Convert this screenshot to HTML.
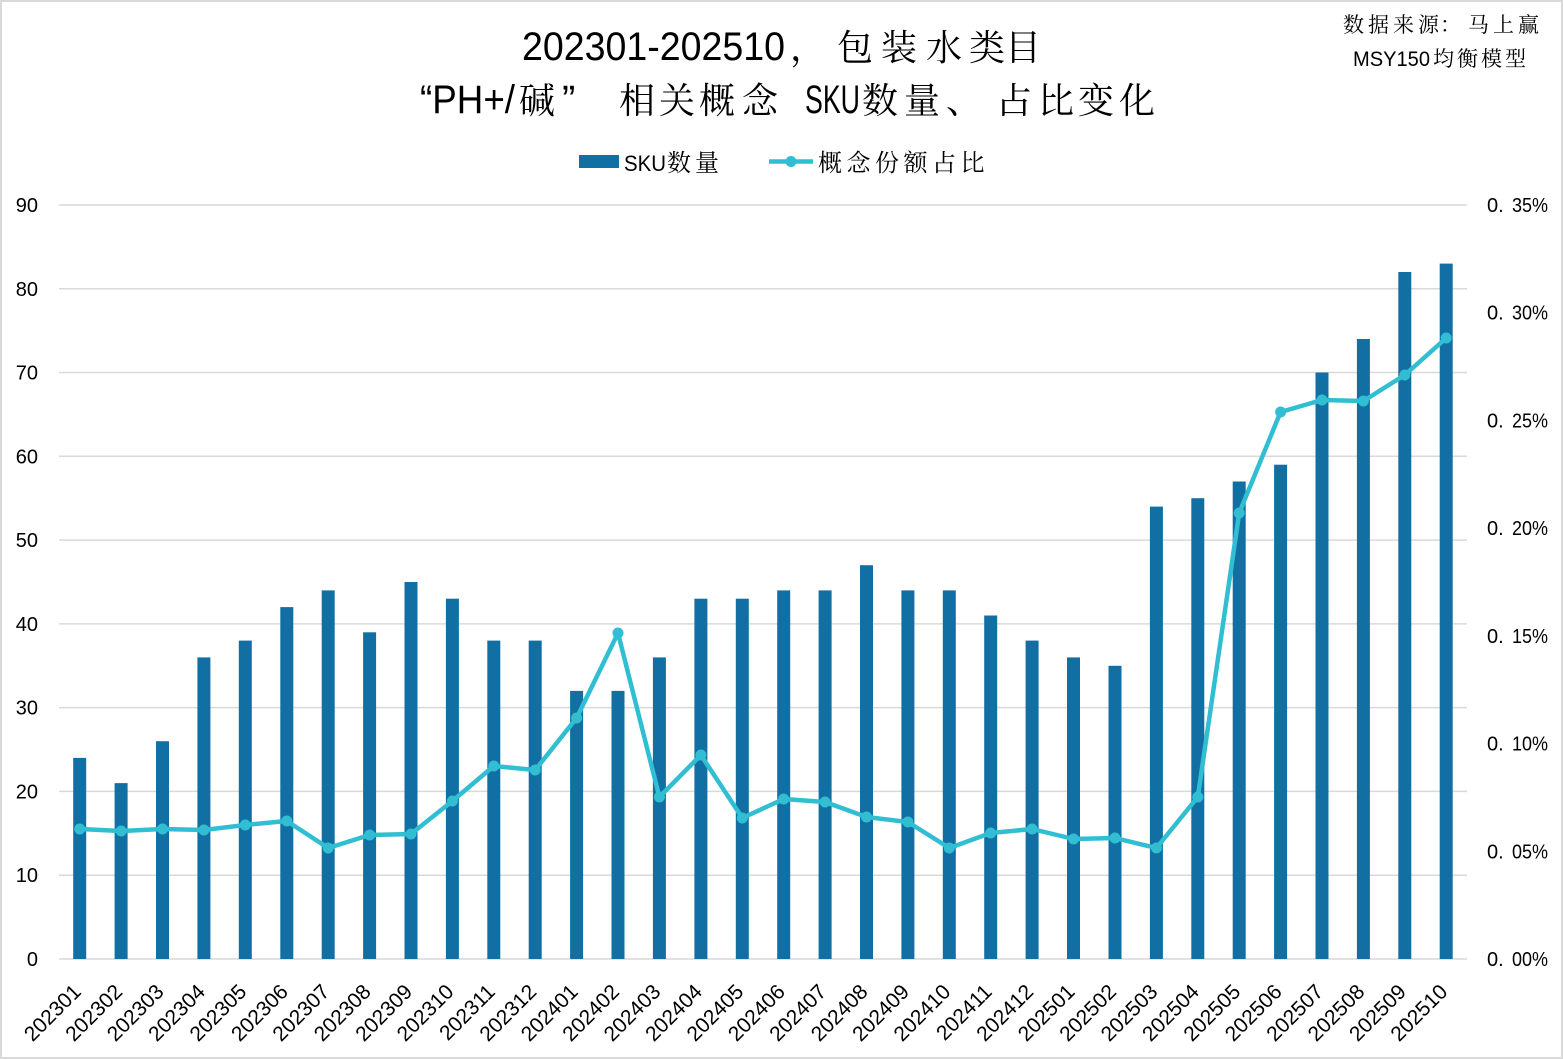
<!DOCTYPE html>
<html>
<head>
<meta charset="utf-8">
<style>
html,body{margin:0;padding:0;background:#fff;}
svg{display:block;}
.lat{font-family:"Liberation Sans","Noto Serif CJK SC",serif;}
.cjk{font-family:"Liberation Sans","Noto Serif CJK SC",serif;}
</style>
</head>
<body>
<svg width="1563" height="1059" viewBox="0 0 1563 1059" xmlns="http://www.w3.org/2000/svg">
<rect x="1" y="1" width="1561" height="1057" fill="#ffffff" stroke="#d9d9d9" stroke-width="2"/>

<!-- Title -->
<g fill="#000">
<text class="lat" x="522" y="60" font-size="40" textLength="263" lengthAdjust="spacingAndGlyphs">202301-202510</text>
<text class="cjk" x="790 837 881 926 969 1005" y="60" font-size="36">，包装水类目</text>

<text class="lat" x="420" y="113" font-size="40" textLength="95" lengthAdjust="spacingAndGlyphs">“PH+/</text>
<text class="cjk" x="519" y="113" font-size="36">碱</text>
<text class="lat" x="562" y="113" font-size="40">”</text>
<text class="cjk" x="619 659 699 742" y="113" font-size="36">相关概念</text>
<text class="lat" x="805" y="113" font-size="40" textLength="55" lengthAdjust="spacingAndGlyphs">SKU</text>
<text class="cjk" x="862 904 946 996 1038 1078 1119" y="113" font-size="36">数量、占比变化</text>
</g>

<!-- Source -->
<g fill="#000">
<text class="cjk" x="1343 1368 1393 1418 1440 1468 1493 1518" y="32" font-size="21">数据来源：马上赢</text>
<text class="lat" x="1353" y="66" font-size="21" textLength="77" lengthAdjust="spacingAndGlyphs">MSY150</text>
<text class="cjk" x="1433 1457 1481 1505" y="66" font-size="21">均衡模型</text>
</g>

<!-- Legend -->
<rect x="579" y="155" width="40" height="13" fill="#126FA3"/>
<text class="lat" x="624" y="171" font-size="22" textLength="42" lengthAdjust="spacingAndGlyphs" fill="#000">SKU</text>
<text class="cjk" x="667 695" y="171" font-size="24" fill="#000">数量</text>
<line x1="769" y1="161.5" x2="813" y2="161.5" stroke="#31BED3" stroke-width="4.5"/>
<circle cx="791" cy="161.5" r="5.5" fill="#31BED3"/>
<text class="cjk" x="818 846.5 875 903.5 932 960.5" y="171" font-size="24" fill="#000">概念份额占比</text>

<!-- Gridlines -->
<g stroke="#d9d9d9" stroke-width="1.5">
<line x1="59" y1="205" x2="1467" y2="205"/>
<line x1="59" y1="288.8" x2="1467" y2="288.8"/>
<line x1="59" y1="372.5" x2="1467" y2="372.5"/>
<line x1="59" y1="456.3" x2="1467" y2="456.3"/>
<line x1="59" y1="540.1" x2="1467" y2="540.1"/>
<line x1="59" y1="623.9" x2="1467" y2="623.9"/>
<line x1="59" y1="707.6" x2="1467" y2="707.6"/>
<line x1="59" y1="791.4" x2="1467" y2="791.4"/>
<line x1="59" y1="875.2" x2="1467" y2="875.2"/>
<line x1="59" y1="959" x2="1467" y2="959"/>
</g>

<!-- Left axis labels -->
<g class="lat" font-size="20" fill="#000" text-anchor="end">
<text x="38" y="212">90</text>
<text x="38" y="295.8">80</text>
<text x="38" y="379.5">70</text>
<text x="38" y="463.3">60</text>
<text x="38" y="547.1">50</text>
<text x="38" y="630.9">40</text>
<text x="38" y="714.6">30</text>
<text x="38" y="798.4">20</text>
<text x="38" y="882.2">10</text>
<text x="38" y="966">0</text>
</g>

<!-- Right axis labels -->
<g class="lat" font-size="20" fill="#000">
<text x="1487" y="212">0.</text><text x="1512" y="212" textLength="36" lengthAdjust="spacingAndGlyphs">35%</text>
<text x="1487" y="319.7">0.</text><text x="1512" y="319.7" textLength="36" lengthAdjust="spacingAndGlyphs">30%</text>
<text x="1487" y="427.4">0.</text><text x="1512" y="427.4" textLength="36" lengthAdjust="spacingAndGlyphs">25%</text>
<text x="1487" y="535.1">0.</text><text x="1512" y="535.1" textLength="36" lengthAdjust="spacingAndGlyphs">20%</text>
<text x="1487" y="642.9">0.</text><text x="1512" y="642.9" textLength="36" lengthAdjust="spacingAndGlyphs">15%</text>
<text x="1487" y="750.6">0.</text><text x="1512" y="750.6" textLength="36" lengthAdjust="spacingAndGlyphs">10%</text>
<text x="1487" y="858.3">0.</text><text x="1512" y="858.3" textLength="36" lengthAdjust="spacingAndGlyphs">05%</text>
<text x="1487" y="966">0.</text><text x="1512" y="966" textLength="36" lengthAdjust="spacingAndGlyphs">00%</text>
</g>

<!-- Bars -->
<g fill="#126FA3">
<rect x="73.2" y="757.9" width="13" height="201.1"/>
<rect x="114.6" y="783.1" width="13" height="175.9"/>
<rect x="156.0" y="741.2" width="13" height="217.8"/>
<rect x="197.4" y="657.4" width="13" height="301.6"/>
<rect x="238.8" y="640.6" width="13" height="318.4"/>
<rect x="280.3" y="607.1" width="13" height="351.9"/>
<rect x="321.7" y="590.4" width="13" height="368.6"/>
<rect x="363.1" y="632.3" width="13" height="326.7"/>
<rect x="404.5" y="582.0" width="13" height="377.0"/>
<rect x="445.9" y="598.7" width="13" height="360.3"/>
<rect x="487.3" y="640.6" width="13" height="318.4"/>
<rect x="528.7" y="640.6" width="13" height="318.4"/>
<rect x="570.1" y="690.9" width="13" height="268.1"/>
<rect x="611.5" y="690.9" width="13" height="268.1"/>
<rect x="652.9" y="657.4" width="13" height="301.6"/>
<rect x="694.4" y="598.7" width="13" height="360.3"/>
<rect x="735.8" y="598.7" width="13" height="360.3"/>
<rect x="777.2" y="590.4" width="13" height="368.6"/>
<rect x="818.6" y="590.4" width="13" height="368.6"/>
<rect x="860.0" y="565.2" width="13" height="393.8"/>
<rect x="901.4" y="590.4" width="13" height="368.6"/>
<rect x="942.8" y="590.4" width="13" height="368.6"/>
<rect x="984.2" y="615.5" width="13" height="343.5"/>
<rect x="1025.6" y="640.6" width="13" height="318.4"/>
<rect x="1067.0" y="657.4" width="13" height="301.6"/>
<rect x="1108.5" y="665.8" width="13" height="293.2"/>
<rect x="1149.9" y="506.6" width="13" height="452.4"/>
<rect x="1191.3" y="498.2" width="13" height="460.8"/>
<rect x="1232.7" y="481.5" width="13" height="477.5"/>
<rect x="1274.1" y="464.7" width="13" height="494.3"/>
<rect x="1315.5" y="372.5" width="13" height="586.5"/>
<rect x="1356.9" y="339.0" width="13" height="620.0"/>
<rect x="1398.3" y="272.0" width="13" height="687.0"/>
<rect x="1439.7" y="263.6" width="13" height="695.4"/>
</g>

<!-- Line -->
<polyline fill="none" stroke="#31BED3" stroke-width="4.5" stroke-linejoin="round" stroke-linecap="round"
points="79.7,829 121.1,831 162.5,829 203.9,830 245.3,825 286.8,821 328.2,848 369.6,835 411.0,834 452.4,801 493.8,766 535.2,770 576.6,718 618.0,633 659.4,797 700.9,755 742.3,818 783.7,799 825.1,802 866.5,817 907.9,822 949.3,848 990.7,833 1032.1,829 1073.5,839 1115.0,838 1156.4,848 1197.8,797 1239.2,513 1280.6,412 1322.0,400 1363.4,401 1404.8,375 1446.2,338"/>
<g fill="#31BED3">
<circle cx="79.7" cy="829" r="5.5"/>
<circle cx="121.1" cy="831" r="5.5"/>
<circle cx="162.5" cy="829" r="5.5"/>
<circle cx="203.9" cy="830" r="5.5"/>
<circle cx="245.3" cy="825" r="5.5"/>
<circle cx="286.8" cy="821" r="5.5"/>
<circle cx="328.2" cy="848" r="5.5"/>
<circle cx="369.6" cy="835" r="5.5"/>
<circle cx="411.0" cy="834" r="5.5"/>
<circle cx="452.4" cy="801" r="5.5"/>
<circle cx="493.8" cy="766" r="5.5"/>
<circle cx="535.2" cy="770" r="5.5"/>
<circle cx="576.6" cy="718" r="5.5"/>
<circle cx="618.0" cy="633" r="5.5"/>
<circle cx="659.4" cy="797" r="5.5"/>
<circle cx="700.9" cy="755" r="5.5"/>
<circle cx="742.3" cy="818" r="5.5"/>
<circle cx="783.7" cy="799" r="5.5"/>
<circle cx="825.1" cy="802" r="5.5"/>
<circle cx="866.5" cy="817" r="5.5"/>
<circle cx="907.9" cy="822" r="5.5"/>
<circle cx="949.3" cy="848" r="5.5"/>
<circle cx="990.7" cy="833" r="5.5"/>
<circle cx="1032.1" cy="829" r="5.5"/>
<circle cx="1073.5" cy="839" r="5.5"/>
<circle cx="1115.0" cy="838" r="5.5"/>
<circle cx="1156.4" cy="848" r="5.5"/>
<circle cx="1197.8" cy="797" r="5.5"/>
<circle cx="1239.2" cy="513" r="5.5"/>
<circle cx="1280.6" cy="412" r="5.5"/>
<circle cx="1322.0" cy="400" r="5.5"/>
<circle cx="1363.4" cy="401" r="5.5"/>
<circle cx="1404.8" cy="375" r="5.5"/>
<circle cx="1446.2" cy="338" r="5.5"/>
</g>

<!-- X axis labels -->
<g class="lat" font-size="21" fill="#000" text-anchor="end">
<text transform="translate(82.2,993) rotate(-45)">202301</text>
<text transform="translate(123.6,993) rotate(-45)">202302</text>
<text transform="translate(165.0,993) rotate(-45)">202303</text>
<text transform="translate(206.4,993) rotate(-45)">202304</text>
<text transform="translate(247.8,993) rotate(-45)">202305</text>
<text transform="translate(289.3,993) rotate(-45)">202306</text>
<text transform="translate(330.7,993) rotate(-45)">202307</text>
<text transform="translate(372.1,993) rotate(-45)">202308</text>
<text transform="translate(413.5,993) rotate(-45)">202309</text>
<text transform="translate(454.9,993) rotate(-45)">202310</text>
<text transform="translate(496.3,993) rotate(-45)">202311</text>
<text transform="translate(537.7,993) rotate(-45)">202312</text>
<text transform="translate(579.1,993) rotate(-45)">202401</text>
<text transform="translate(620.5,993) rotate(-45)">202402</text>
<text transform="translate(661.9,993) rotate(-45)">202403</text>
<text transform="translate(703.4,993) rotate(-45)">202404</text>
<text transform="translate(744.8,993) rotate(-45)">202405</text>
<text transform="translate(786.2,993) rotate(-45)">202406</text>
<text transform="translate(827.6,993) rotate(-45)">202407</text>
<text transform="translate(869.0,993) rotate(-45)">202408</text>
<text transform="translate(910.4,993) rotate(-45)">202409</text>
<text transform="translate(951.8,993) rotate(-45)">202410</text>
<text transform="translate(993.2,993) rotate(-45)">202411</text>
<text transform="translate(1034.6,993) rotate(-45)">202412</text>
<text transform="translate(1076.0,993) rotate(-45)">202501</text>
<text transform="translate(1117.5,993) rotate(-45)">202502</text>
<text transform="translate(1158.9,993) rotate(-45)">202503</text>
<text transform="translate(1200.3,993) rotate(-45)">202504</text>
<text transform="translate(1241.7,993) rotate(-45)">202505</text>
<text transform="translate(1283.1,993) rotate(-45)">202506</text>
<text transform="translate(1324.5,993) rotate(-45)">202507</text>
<text transform="translate(1365.9,993) rotate(-45)">202508</text>
<text transform="translate(1407.3,993) rotate(-45)">202509</text>
<text transform="translate(1448.7,993) rotate(-45)">202510</text>
</g>
</svg>
</body>
</html>
